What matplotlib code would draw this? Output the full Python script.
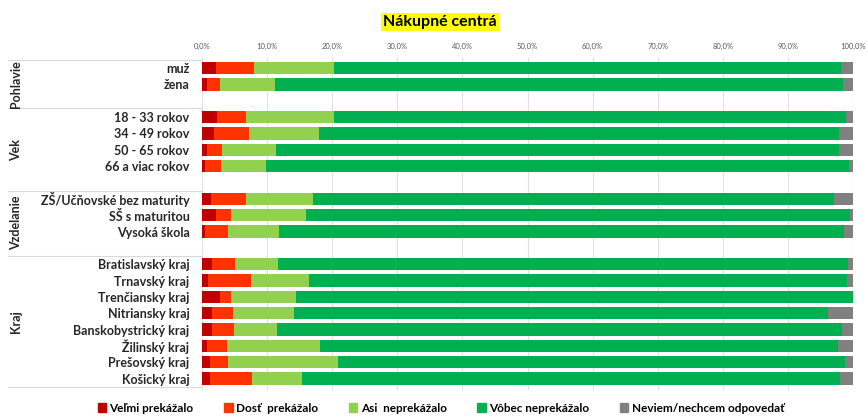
import matplotlib
matplotlib.use("Agg")
import matplotlib.pyplot as plt
from matplotlib.lines import Line2D
import numpy as np

plt.rcParams['font.family'] = ['Lato', 'DejaVu Sans']

title = "Nákupné centrá"
groups = ["Pohlavie", "Vek", "Vzdelanie", "Kraj"]
group_members = [
    ["muž", "žena"],
    ["18 - 33 rokov", "34 - 49 rokov", "50 - 65 rokov", "66 a viac rokov"],
    ["ZŠ/Učňovské bez maturity", "SŠ s maturitou", "Vysoká škola"],
    ["Bratislavský kraj", "Trnavský kraj", "Trenčiansky kraj", "Nitriansky kraj",
     "Banskobystrický kraj", "Žilinský kraj", "Prešovský kraj", "Košický kraj"],
]
series_names = ["Veľmi prekážalo", "Dosť  prekážalo", "Asi  neprekážalo",
                "Vôbec neprekážalo", "Neviem/nechcem odpovedať"]
colors = ["#C00000", "#FF3300", "#92D050", "#00B050", "#808080"]

velmi = [2.2, 0.8, 2.3, 1.9, 0.8, 0.5, 1.4, 2.1, 0.4, 1.6, 0.9, 2.7, 1.5, 1.6, 0.7, 1.3, 1.3]
dost = [5.8, 1.9, 4.5, 5.3, 2.2, 2.4, 5.3, 2.4, 3.6, 3.4, 6.7, 1.8, 3.2, 3.3, 3.2, 2.7, 6.4]
asi = [12.2, 8.5, 13.5, 10.8, 8.3, 7.0, 10.4, 11.5, 7.8, 6.7, 8.8, 9.9, 9.4, 6.6, 14.2, 16.9, 7.7]
vobec = [77.9, 87.3, 78.6, 79.8, 86.5, 89.5, 80.0, 83.5, 86.8, 87.5, 82.7, 85.6, 82.1, 86.8, 79.6, 77.9, 82.6]
neviem = [1.9, 1.5, 1.1, 2.2, 2.2, 0.6, 2.9, 0.5, 1.4, 0.8, 0.9, 0.0, 3.8, 1.7, 2.3, 1.2, 2.0]
series = [velmi, dost, asi, vobec, neviem]

xticks = [0, 10, 20, 30, 40, 50, 60, 70, 80, 90, 100]
xticklabels = ["0,0%", "10,0%", "20,0%", "30,0%", "40,0%", "50,0%",
               "60,0%", "70,0%", "80,0%", "90,0%", "100,0%"]

W, H = 868, 419
fig = plt.figure(figsize=(W / 100, H / 100), dpi=100)

ax_left, ax_right = 202, 853
ax_top, ax_bot = 57, 390
ax = fig.add_axes([ax_left / W, 1 - ax_bot / H, (ax_right - ax_left) / W, (ax_bot - ax_top) / H])

# row positions with a gap row after each group
positions = []
labels = []
group_spans = []
pos = 0
for g, members in zip(groups, group_members):
    start = pos
    for m in members:
        positions.append(pos)
        labels.append(m)
        pos += 1
    group_spans.append((start, pos - 1))
    pos += 1  # gap
positions = np.array(positions)

left = np.zeros(len(positions))
for vals, c in zip(series, colors):
    v = np.array(vals)
    ax.barh(positions, v, left=left, height=0.75, color=c, edgecolor='none', zorder=3)
    left += v

ax.set_xlim(0, 100)
ax.set_ylim(19.7, -0.68)
ax.xaxis.tick_top()
ax.set_xticks(xticks)
ax.set_xticklabels(xticklabels, fontsize=5.5, color="#595959")
ax.tick_params(axis='x', length=0, pad=5)
ax.set_yticks(positions)
ax.set_yticklabels(labels, fontsize=9, fontweight='bold', color='#262626')
ax.tick_params(axis='y', length=0, pad=9)
ax.grid(axis='x', color='#E0E0E0', linewidth=0.8, zorder=0)
for s in ax.spines.values():
    s.set_visible(False)

# group separators and labels (in figure pixel coords)
def fy(py):
    return 1 - py / H

sep_y = [60, 108, 191, 256, 387]
for y in sep_y:
    fig.add_artist(Line2D([8 / W, ax_left / W], [fy(y), fy(y)], color='#D9D9D9', linewidth=0.8))

group_label_y = [84, 150, 223, 322]
for g, y in zip(groups, group_label_y):
    fig.text(16 / W, fy(y), g, rotation=90, ha='center', va='center',
             fontsize=9, fontweight='bold', color='#262626')

# title
fig.text(440 / W, fy(22), title, ha='center', va='center', fontsize=11.5,
         fontweight='bold', color='#000000',
         bbox=dict(boxstyle='square,pad=0.15', facecolor='#FFFF00', edgecolor='none'))

# legend
handles = [plt.Rectangle((0, 0), 1, 1, color=c) for c in colors]
fig.legend(handles, series_names, loc='center', bbox_to_anchor=(441 / W, fy(408)),
           ncol=5, frameon=False, fontsize=8.5, handlelength=0.7, handleheight=0.7,
           handletextpad=0.3, columnspacing=2.6, prop={'weight': 'bold', 'size': 8.5})

fig.savefig("out.png", dpi=100)
